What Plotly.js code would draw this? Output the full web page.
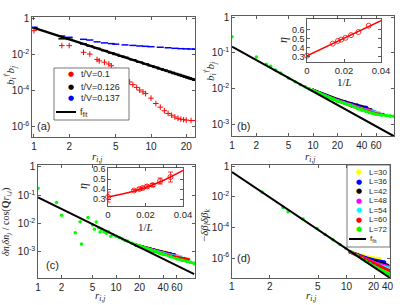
<!DOCTYPE html>
<html><head><meta charset="utf-8">
<script src="https://cdn.plot.ly/plotly-3.0.1.min.js"></script>
<style>html,body{margin:0;padding:0;background:#fff;}#plot{width:407px;height:305px;}</style>
</head><body><div id="plot"></div>
<script>
// ---------- Panel (a) ----------
const rA_red = [1,1.73,2,2.65,3,3.46,3.61,4,4.36,4.58,5,5.57,6,6.56,7,7.55,8,8.54,9,10,11,12,13,14,15,16,17,18,19,20,22,24];
const yA_red = [0.224,0.0331,0.0331,0.0141,0.0112,0.00562,0.00468,0.00398,0.00316,0.00251,0.00141,7.94e-4,5.01e-4,3.16e-4,2.24e-4,1.58e-4,1.12e-4,8.91e-5,7.08e-5,3.98e-5,2.0e-5,1.26e-5,7.94e-6,5.62e-6,4.47e-6,3.55e-6,3.02e-6,2.69e-6,2.51e-6,2.40e-6,2.29e-6,2.24e-6];
const rA_blk = [1,1.73,2,2.65,3,3.46,4,4.58,5,5.57,6,7,8,9,10,11,12,13,14,15,16,17,18,19,20,21,22,23,24];
const yA_blk = [0.316,0.079,0.074,0.041,0.0316,0.0234,0.0174,0.0129,0.0107,0.0085,0.0074,0.0054,0.00398,0.00316,0.00251,0.00204,0.0017,0.00144,0.00123,0.00107,9.3e-4,8.3e-4,7.3e-4,6.5e-4,5.9e-4,5.3e-4,4.8e-4,4.4e-4,4.0e-4];
const rA_blu = [1,1.73,2,2.65,3,3.46,4,4.58,5,6,7,8,9,10,12,14,16,18,20,22,24];
const yA_blu = [0.347,0.112,0.0955,0.0741,0.0676,0.0537,0.0468,0.0427,0.0398,0.0363,0.0339,0.0316,0.0302,0.0288,0.0269,0.0251,0.0234,0.0224,0.0219,0.0214,0.0209];
const rA_fit = [1,24];
const yA_fit = [0.316,4.0e-4];
const legendA = ['t/V=0.1','t/V=0.126','t/V=0.137'];

// ---------- Panel (b) ----------
const rB_fit = [1,100];
const yB_fit = [0.148,4.6e-4];
const rB_72 = [1,2,2.65,3,3.46,4,5,6,7,8,9,10,12,14,16,18,20,24,28,32,36,40,45,50,55,60,70,80,90,100];
const yB_72 = [0.28,0.076,0.048,0.042,0.033,0.027,0.0195,0.0155,0.0128,0.0112,0.0098,0.0089,0.0074,0.0063,0.0055,0.0049,0.0045,0.0039,0.0035,0.0031,0.0027,0.0025,0.0023,0.0021,0.0020,0.0019,0.00180,0.00174,0.00170,0.00167];
const rB_30 = [10,14,18,22,26,30,34,38];
const yB_30 = [0.0091,0.0068,0.0055,0.0047,0.0042,0.0038,0.0035,0.0033];
const rB_36 = [10,15,20,25,30,35,40,46];
const yB_36 = [0.0091,0.0063,0.0050,0.0043,0.0038,0.0035,0.0032,0.0030];
const rB_42 = [10,15,20,25,30,35,40,45,52];
const yB_42 = [0.0091,0.0062,0.0049,0.0042,0.0036,0.0033,0.0030,0.0028,0.0026];
const rB_48 = [10,15,20,30,40,50,58];
const yB_48 = [0.0089,0.006,0.0047,0.0035,0.0028,0.0025,0.0023];
const rB_54 = [10,15,20,30,40,50,60,66];
const yB_54 = [0.0089,0.0059,0.0046,0.0033,0.0027,0.0023,0.0022,0.0021];
const rB_60 = [10,15,20,30,40,50,60,74];
const yB_60 = [0.0089,0.0058,0.0045,0.0032,0.0026,0.0022,0.0020,0.0019];
const invL = [0,0.0139,0.0167,0.0185,0.0208,0.0238,0.0278,0.0333];
const etaB = [0.31,0.445,0.475,0.49,0.51,0.54,0.575,0.645];
const xB_fitIn = [0,0.04];
const yB_fitIn = [0.31,0.70];

// ---------- Panel (c) ----------
const rC_fit = [1,100];
const yC_fit = [0.083,1.6e-4];
const rC_72 = [1,1.73,2,3,3.46,3.61,4.36,5,5.29,5.57,6,6.24,6.56,7,7.55,8,8.54,9,10,11,12,13,14,16,18,20,24,28,32,36,40,50,60,70,80,90,100];
const yC_72 = [0.178,0.055,0.0195,0.0047,0.0115,0.00186,0.0162,0.0089,0.0063,0.0112,0.0071,0.005,0.0063,0.005,0.0045,0.005,0.0035,0.004,0.0035,0.0032,0.0028,0.0025,0.0024,0.002,0.00178,0.00158,0.00132,0.00112,0.001,8.9e-4,7.9e-4,6.6e-4,5.6e-4,5.0e-4,4.5e-4,4.2e-4,3.9e-4];
const rC_30 = [18,22,26,30,36,42];
const yC_30 = [0.00178,0.00151,0.00132,0.0012,0.0011,0.001];
const rC_36 = [18,24,30,36,42,50];
const yC_36 = [0.00174,0.00141,0.00117,0.00105,9.5e-4,8.7e-4];
const rC_42 = [18,24,30,38,46,56];
const yC_42 = [0.00174,0.00138,0.00115,0.001,8.9e-4,7.9e-4];
const rC_48 = [18,24,30,40,50,62];
const yC_48 = [0.0017,0.00135,0.00112,9.3e-4,7.9e-4,7.1e-4];
const rC_54 = [18,24,30,40,52,68];
const yC_54 = [0.0017,0.00132,0.0011,8.9e-4,7.4e-4,6.6e-4];
const rC_60 = [18,24,30,40,55,75,85];
const yC_60 = [0.00166,0.00129,0.00105,8.3e-4,6.8e-4,5.9e-4,5.4e-4];
const etaC = [0.32,0.385,0.40,0.41,0.425,0.44,0.48,0.52];
const errC = [0.05,0.01,0.012,0.012,0.015,0.015,0.03,0.05];
const xC_fitIn = [0,0.01,0.02,0.03,0.04];
const yC_fitIn = [0.32,0.36,0.415,0.49,0.585];

// ---------- Panel (d): x is the plotted (compressed) distance; ticks labelled with r ----------
const cD_fit = [1,18.4];
const yD_fit = [0.41,5.0e-8];
const cD_72 = [1.74,2.56,2.81,3.70,4.79,5.55,6.43,7.31,8.17,9.12,10.0,10.96,11.8,12.7,13.7,14.7,15.6,16.4,17.4,18.0];
const yD_72 = [0.02,0.002,0.00105,3.55e-4,8.5e-5,3.47e-5,1.55e-5,7.76e-6,4.17e-6,2.4e-6,1.45e-6,9.1e-7,6.3e-7,4.4e-7,3.0e-7,2.2e-7,1.66e-7,1.32e-7,1.05e-7,9.1e-8];
const cD_30 = [8.79,10.19,11.8,13.4,15.3];
const yD_30 = [2.5e-6,1.78e-6,1.32e-6,1.07e-6,9.3e-7];
const cD_36 = [8.79,10.19,11.8,13.7,16.7];
const yD_36 = [2.5e-6,1.58e-6,1.05e-6,7.6e-7,5.6e-7];
const cD_42 = [8.79,10.19,11.8,14.2,17.7];
const yD_42 = [2.5e-6,1.51e-6,9.3e-7,5.6e-7,3.4e-7];
const cD_48 = [8.79,10.19,11.8,14.2,17.7];
const yD_48 = [2.5e-6,1.45e-6,8.3e-7,4.7e-7,2.8e-7];
const cD_54 = [8.79,10.19,11.8,14.2,18.0];
const yD_54 = [2.5e-6,1.38e-6,7.6e-7,3.8e-7,2.2e-7];
const cD_60 = [8.79,10.57,12.7,15.3,18.4];
const yD_60 = [2.5e-6,1.2e-6,6.0e-7,3.0e-7,1.45e-7];
const xTickPosD = [1,2,4.88,8.3,13.7,17.7];
const xTickTextD = ['1','2','5','10','20','40'];

const Lnames = ['L=30','L=36','L=42','L=48','L=54','L=60','L=72'];
const Lcolors = ['#ffff00','#0000ff','#000000','#ff00ff','#00ffff','#ff0000','#00ff00'];

const xTicksA = [1,2,5,10,20];
const xTicksBC = [1,2,5,10,20,40,60];
const yTicksAD = [1,1e-2,1e-4,1e-6];
const yTextAD = ['1','10<sup>-2</sup>','10<sup>-4</sup>','10<sup>-6</sup>'];
const yTicksBC = [1,1e-1,1e-2,1e-3];
const yTextBC = ['1','10<sup>-1</sup>','10<sup>-2</sup>','10<sup>-3</sup>'];
const insetXTicks = [0,0.02,0.04];
const insetYTicks = [0.3,0.4,0.5,0.6];

// ---------- layout helpers ----------
const W = 407, H = 305;
const FONT = 'Liberation Sans, Arial, sans-serif';
const SERIF = 'Liberation Serif, DejaVu Serif, serif';
const common = {ticks:'inside',ticklen:3,tickwidth:0.8,tickcolor:'#333',showline:true,linecolor:'#333',linewidth:0.8,
  mirror:'ticks',showgrid:false,zeroline:false,fixedrange:true,tickfont:{family:FONT,size:10,color:'#262626'}};
function xAx(p0,p1,range,vals,anchor,type,text,fs){return Object.assign({},common,{type:type||'log',domain:[p0/W,p1/W],range:range,
  tickvals:vals,ticktext:text||vals.map(String),anchor:anchor},fs?{tickfont:{family:FONT,size:fs,color:'#262626'}}:{});}
function yAx(p0,p1,range,vals,text,anchor,type,fs){return Object.assign({},common,{type:type||'log',domain:[1-p1/H,1-p0/H],range:range,
  tickvals:vals,ticktext:text,anchor:anchor},fs?{tickfont:{family:FONT,size:fs,color:'#262626'}}:{});}

const traces = [];
function pts(x,y,xa,ya,color,size,symbol,lw){traces.push({x:x,y:y,xaxis:xa,yaxis:ya,mode:'markers',type:'scatter',
  marker:{color:color,size:size,symbol:symbol||'circle',line:{color:color,width:lw||0}},hoverinfo:'skip'});}
function line(x,y,xa,ya,color,w,shape){traces.push({x:x,y:y,xaxis:xa,yaxis:ya,mode:'lines',type:'scatter',
  line:{color:color,width:w,shape:shape||'linear'},hoverinfo:'skip'});}
function band(x,y,xa,ya,color,w){traces.push({x:x,y:y,xaxis:xa,yaxis:ya,mode:'lines+markers',type:'scatter',
  line:{color:color,width:w||2.5},marker:{color:color,size:3},hoverinfo:'skip'});}

// (a)
pts(rA_red,yA_red,'x','y','#ff0000',4,'cross-thin-open',1);
pts(rA_blk,yA_blk,'x','y','#000000',5,'line-ew-open',1.5);
pts(rA_blu,yA_blu,'x','y','#0000ff',5,'line-ew-open',1.5);
line(rA_fit,yA_fit,'x','y','#000000',2.4);
// (b)
[[rB_30,yB_30],[rB_36,yB_36],[rB_42,yB_42],[rB_48,yB_48],[rB_54,yB_54],[rB_60,yB_60]].forEach((d,i)=>band(d[0],d[1],'x2','y2',Lcolors[i]));
band(rB_72.slice(11),yB_72.slice(11),'x2','y2',Lcolors[6]);
pts(rB_72,yB_72,'x2','y2',Lcolors[6],3.5);
line(rB_fit,yB_fit,'x2','y2','#000000',2);
// (b) inset
line(xB_fitIn,yB_fitIn,'x5','y5','#ff0000',1.5);
traces.push({x:invL,y:etaB,xaxis:'x5',yaxis:'y5',mode:'markers',type:'scatter',cliponaxis:false,
  marker:{color:'#ff0000',size:5,symbol:'circle-open',line:{width:0.8}},hoverinfo:'skip'});
// (c)
[[rC_30,yC_30],[rC_36,yC_36],[rC_42,yC_42],[rC_48,yC_48],[rC_54,yC_54],[rC_60,yC_60]].forEach((d,i)=>band(d[0],d[1],'x3','y3',Lcolors[i]));
band(rC_72.slice(23),yC_72.slice(23),'x3','y3',Lcolors[6]);
pts(rC_72,yC_72,'x3','y3',Lcolors[6],3.5);
line(rC_fit,yC_fit,'x3','y3','#000000',2);
// (c) inset
line(xC_fitIn,yC_fitIn,'x6','y6','#ff0000',1.5,'spline');
traces.push({x:invL,y:etaC,xaxis:'x6',yaxis:'y6',mode:'markers',type:'scatter',cliponaxis:false,
  error_y:{type:'data',array:errC,visible:true,color:'#ff0000',thickness:0.8,width:2.5},
  marker:{color:'#ff0000',size:5,symbol:'circle-open',line:{width:0.8}},hoverinfo:'skip'});
// (d)
band(cD_72.slice(9),yD_72.slice(9),'x4','y4',Lcolors[6],3);
[[cD_30,yD_30],[cD_36,yD_36],[cD_42,yD_42],[cD_48,yD_48],[cD_54,yD_54],[cD_60,yD_60]].forEach((d,i)=>band(d[0],d[1],'x4','y4',Lcolors[i],3));
pts(cD_72,yD_72,'x4','y4',Lcolors[6],3.5);
line(cD_fit,yD_fit,'x4','y4','#000000',2);

// ---------- annotations ----------
const ann = [];
function txt(x,y,t,opts){ann.push(Object.assign({x:x/W,y:1-y/H,xref:'paper',yref:'paper',text:t,showarrow:false,
  font:{family:FONT,size:10,color:'#262626'},xanchor:'center',yanchor:'middle'},opts||{}));}
const rij = '<i>r<sub>i,j</sub></i>';
const serifF = {family:SERIF,size:11,color:'#262626'};
txt(97,157,rij,{font:serifF});
txt(310,157,rij,{font:serifF});
txt(100,296,rij,{font:serifF});
txt(311,296,rij,{font:serifF});
txt(10,76,'<i>b<sub>i</sub><sup>†</sup>b<sub>j</sub></i>',{font:serifF,textangle:-90});
txt(210,72,'<i>b<sub>i</sub><sup>†</sup>b<sub>j</sub></i>',{font:serifF,textangle:-90});
txt(6,222,'<i>δn<sub>i</sub>δn<sub>j</sub></i> / cos(<b>Q</b><i>r<sub>i,j</sub></i>)',{font:{family:SERIF,size:10,color:'#262626'},textangle:-90});
txt(205,225,'−<i>δβ<sub>l</sub>δβ<sub>k</sub></i>',{font:serifF,textangle:-90});
txt(43,126,'(a)',{font:{family:FONT,size:11,color:'#262626'}});
txt(243,126,'(b)',{font:{family:FONT,size:11,color:'#262626'}});
txt(52,265,'(c)',{font:{family:FONT,size:11,color:'#262626'}});
txt(243,258,'(d)',{font:{family:FONT,size:11,color:'#262626'}});
// (d) x tick labels, placed on the x4 scale
xTickPosD.forEach((v,i)=>{ann.push({x:Math.log10(v),xref:'x4',y:1-286/H,yref:'paper',text:xTickTextD[i],showarrow:false,
  font:{family:FONT,size:10,color:'#262626'},xanchor:'center',yanchor:'middle'});});
// inset titles
txt(283,40,'<i>η</i>',{font:{family:SERIF,size:12,color:'#262626'},textangle:-90});
txt(344,82,'1/<i>L</i>',{font:{family:SERIF,size:11,color:'#262626'}});
txt(83,186,'<i>η</i>',{font:{family:SERIF,size:12,color:'#262626'},textangle:-90});
txt(145,227,'1/<i>L</i>',{font:{family:SERIF,size:11,color:'#262626'}});
// legend (a)
const legAy = [74,87,98];
const legAcol = ['#ff0000','#000000','#0000ff'];
legendA.forEach((s,i)=>{
  txt(71,legAy[i],'●',{font:{family:'DejaVu Sans',size:7,color:legAcol[i]}});
  txt(79,legAy[i],s,{xanchor:'left',font:{family:FONT,size:9,color:'#262626'}});
});
txt(78,112,'f<sub>fit</sub>',{xanchor:'left',font:{family:FONT,size:9,color:'#262626'}});
// legend (d)
const legDy = [172,181.5,191,200.5,210,219.5,229];
Lnames.forEach((s,i)=>{
  txt(359,legDy[i],'●',{font:{family:'DejaVu Sans',size:7,color:Lcolors[i]}});
  txt(367,legDy[i],s,{xanchor:'left',font:{family:FONT,size:8,color:'#262626'}});
});
txt(368,239,'f<sub>fit</sub>',{xanchor:'left',font:{family:FONT,size:8,color:'#262626'}});

const shapes = [
  {type:'rect',xref:'paper',yref:'paper',x0:54/W,x1:129/W,y0:1-120/H,y1:1-68/H,fillcolor:'#fff',line:{color:'#555',width:0.8},layer:'above'},
  {type:'line',xref:'paper',yref:'paper',x0:56/W,x1:76/W,y0:1-112/H,y1:1-112/H,line:{color:'#000',width:2},layer:'above'},
  {type:'rect',xref:'paper',yref:'paper',x0:347/W,x1:390/W,y0:1-247/H,y1:1-165/H,fillcolor:'#fff',line:{color:'#555',width:0.8},layer:'above'},
  {type:'line',xref:'paper',yref:'paper',x0:349/W,x1:366/W,y0:1-239/H,y1:1-239/H,line:{color:'#000',width:2},layer:'above'}
];

const xAxD = xAx(232,390,[0,1.264],xTickPosD,'y4','log',xTickTextD);
xAxD.showticklabels = false;

const layout = {
  width:W,height:H,margin:{l:0,r:0,t:0,b:0},paper_bgcolor:'#fff',plot_bgcolor:'rgba(0,0,0,0)',showlegend:false,
  xaxis: xAx(32,195,[-0.017,1.376],xTicksA,'y'),
  yaxis: yAx(17,137,[-6.56,0.11],yTicksAD,yTextAD,'x'),
  xaxis2: xAx(232,394,[0,2.0],xTicksBC,'y2'),
  yaxis2: yAx(16,136,[-3.33,0.03],yTicksBC,yTextBC,'x2'),
  xaxis3: xAx(38,195,[0,2.01],xTicksBC,'y3'),
  yaxis3: yAx(165,278,[-3.93,0.07],yTicksBC,yTextBC,'x3'),
  xaxis4: xAxD,
  yaxis4: yAx(165,278,[-7.3,0.07],yTicksAD,yTextAD,'x4'),
  xaxis5: xAx(307,381,[0,0.04],insetXTicks,'y5','linear',null,9.5),
  yaxis5: yAx(19,62,[0.24,0.72],insetYTicks,insetYTicks.map(String),'x5','linear',9),
  xaxis6: xAx(108,183,[0,0.04],insetXTicks,'y6','linear',null,9.5),
  yaxis6: yAx(168,206,[0.23,0.61],insetYTicks,insetYTicks.map(String),'x6','linear',9),
  annotations: ann,
  shapes: shapes.concat([
    {type:'rect',xref:'paper',yref:'paper',x0:307/W,x1:381/W,y0:1-62/H,y1:1-19/H,fillcolor:'#fff',line:{width:0},layer:'below'},
    {type:'rect',xref:'paper',yref:'paper',x0:108/W,x1:183/W,y0:1-206/H,y1:1-168/H,fillcolor:'#fff',line:{width:0},layer:'below'}
  ])
};
Plotly.newPlot('plot',traces,layout,{staticPlot:true,displayModeBar:false});
</script></body></html>
